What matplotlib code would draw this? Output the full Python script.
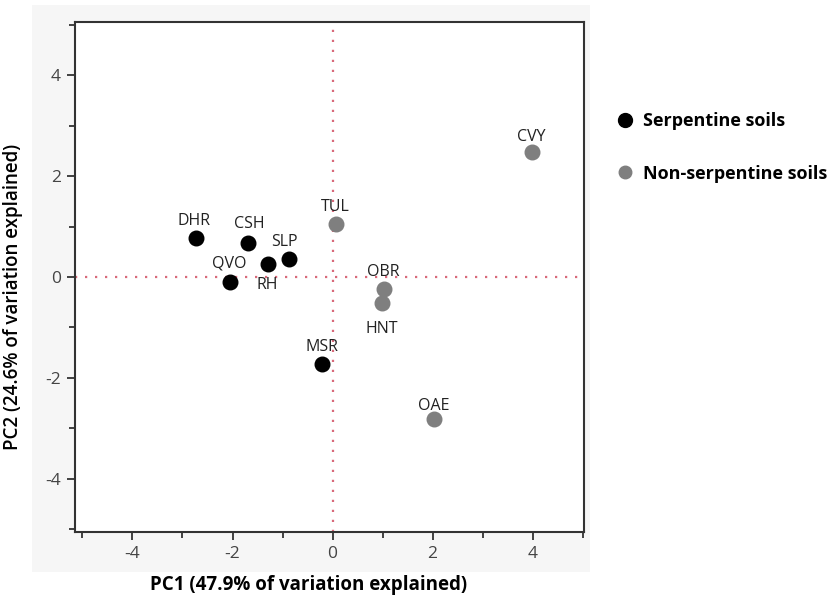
import matplotlib
matplotlib.use("Agg")
import matplotlib.pyplot as plt
from matplotlib.lines import Line2D
from matplotlib.patches import Rectangle
from matplotlib.ticker import MultipleLocator

# PCA scores per site
serp_sites = ["DHR", "CSH", "SLP", "RH", "QVO", "MSR"]
serp_pc1 = [-2.72, -1.70, -0.88, -1.30, -2.06, -0.22]
serp_pc2 = [0.77, 0.67, 0.36, 0.26, -0.10, -1.72]

nonserp_sites = ["TUL", "CVY", "OBR", "HNT", "OAE"]
nonserp_pc1 = [0.06, 3.98, 1.02, 0.98, 2.02]
nonserp_pc2 = [1.05, 2.47, -0.24, -0.51, -2.81]

# label offsets in points (dx, dy)
label_offsets = {
    "DHR": (-2, 12), "CSH": (1, 14), "SLP": (-3, 12), "RH": (0, -15),
    "QVO": (0, 13), "MSR": (0, 12), "TUL": (0, 12), "CVY": (0, 11),
    "OBR": (0, 12), "HNT": (0, -19), "OAE": (0, 9),
}

SERP_COLOR = "#000000"
NONSERP_COLOR = "#7f7f7f"
GUIDE_COLOR = "#d8697a"

plt.rcParams["font.family"] = ["Open Sans", "DejaVu Sans"]
plt.rcParams["axes.unicode_minus"] = False

fig = plt.figure(figsize=(8.35, 5.98), dpi=100)
fig.patches.append(Rectangle((32 / 835, 1 - 572 / 598), (590 - 32) / 835, (572 - 5) / 598,
                             transform=fig.transFigure, facecolor="#f6f6f6",
                             edgecolor="none", zorder=-10))
ax = fig.add_axes([75 / 835, 1 - 532 / 598, 509 / 835, 510 / 598])
ax.set_facecolor("white")

ax.axhline(0, color=GUIDE_COLOR, lw=1.6, ls=(0, (1, 3.5)), zorder=1)
ax.axvline(0, color=GUIDE_COLOR, lw=1.6, ls=(0, (1, 3.5)), zorder=1)

ax.scatter(serp_pc1, serp_pc2, s=110, color=SERP_COLOR, zorder=3)
ax.scatter(nonserp_pc1, nonserp_pc2, s=110, color=NONSERP_COLOR, zorder=3)

for names, xs, ys in [(serp_sites, serp_pc1, serp_pc2), (nonserp_sites, nonserp_pc1, nonserp_pc2)]:
    for n, x, y in zip(names, xs, ys):
        dx, dy = label_offsets[n]
        ax.annotate(n, (x, y), xytext=(dx, dy), textcoords="offset points",
                    ha="center", va="center", fontsize=11.5, color="#222222")

ax.set_xlim(-5.15, 5.03)
ax.set_ylim(-5.05, 5.05)
ax.xaxis.set_major_locator(MultipleLocator(2))
ax.xaxis.set_minor_locator(MultipleLocator(1))
ax.yaxis.set_major_locator(MultipleLocator(2))
ax.yaxis.set_minor_locator(MultipleLocator(1))
ax.tick_params(which="major", length=6, width=1.3, color="#333333", labelsize=12.5,
               labelcolor="#444444", pad=4)
ax.tick_params(which="minor", length=4, width=1.3, color="#333333")
for s in ax.spines.values():
    s.set_linewidth(1.5)
    s.set_color("#333333")

ax.set_xlabel("PC1 (47.9% of variation explained)", fontsize=13.5, fontweight="bold")
ax.set_ylabel("PC2 (24.6% of variation explained)", fontsize=13.5, fontweight="semibold")
ax.xaxis.set_label_coords(0.458, -0.085)
ax.yaxis.set_label_coords(-0.102, 0.461)

handles = [
    Line2D([], [], ls="none", marker="o", markersize=10, color=SERP_COLOR),
    Line2D([], [], ls="none", marker="o", markersize=9, color=NONSERP_COLOR),
]
fig.legend(handles, ["Serpentine soils", "Non-serpentine soils"],
           loc="upper left", bbox_to_anchor=(598 / 835, 1 - 96 / 598),
           frameon=False, labelspacing=1.9, handletextpad=0.4, handlelength=1.2,
           prop={"weight": "bold", "size": 13})

fig.savefig("out.png", dpi=100)
